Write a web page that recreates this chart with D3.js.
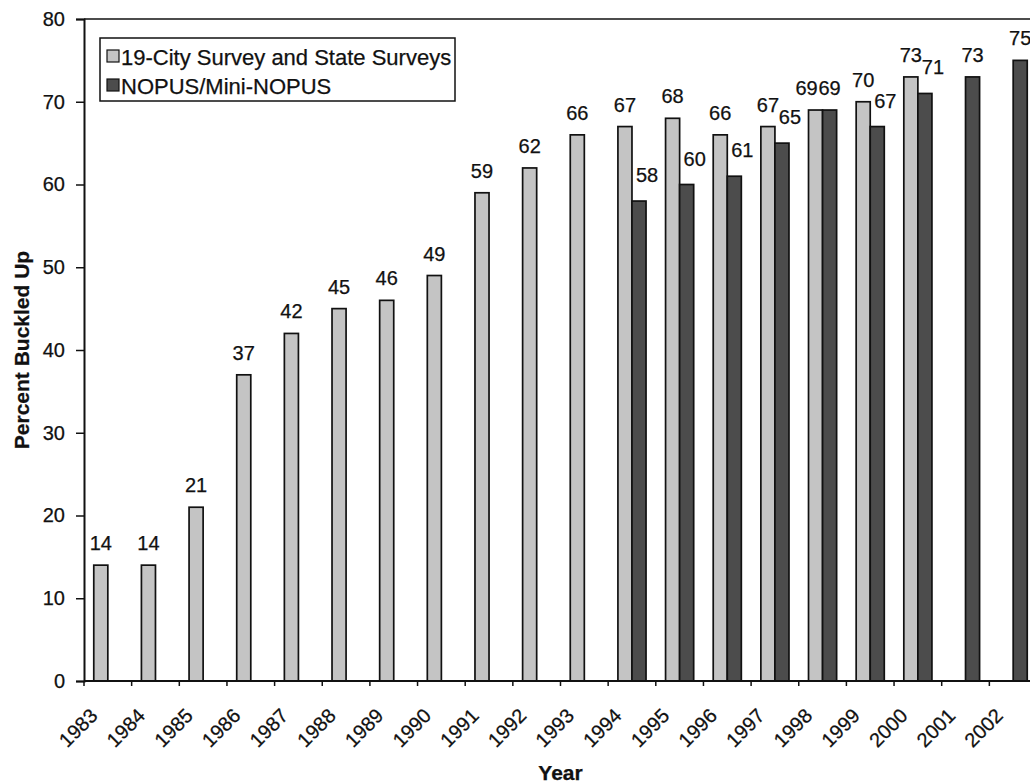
<!DOCTYPE html>
<html>
<head>
<meta charset="utf-8">
<script src="https://cdn.jsdelivr.net/npm/d3@7"></script>
<style>
  html, body { margin: 0; padding: 0; background: #fff; overflow: hidden; }
  svg { display: block; font-family: "Liberation Sans", Arial, Helvetica, sans-serif; }
  svg text { stroke: #111; stroke-width: 0.25px; }
</style>
</head>
<body>
<svg id="chart" width="1030" height="783"></svg>
<script>
// Seat belt use by survey year
const years = ["1983", "1984", "1985", "1986", "1987", "1988", "1989", "1990", "1991", "1992",
               "1993", "1994", "1995", "1996", "1997", "1998", "1999", "2000", "2001", "2002"];
const cityStateSurveys = [14, 14, 21, 37, 42, 45, 46, 49, 59, 62,
                          66, 67, 68, 66, 67, 69, 70, 73, null, null];
const nopusSurveys = [null, null, null, null, null, null, null, null, null, null,
                      null, 58, 60, 61, 65, 69, 67, 71, 73, 75];
const seriesNames = ["19-City Survey and State Surveys", "NOPUS/Mini-NOPUS"];
const yTicks = [0, 10, 20, 30, 40, 50, 60, 70, 80];

const series = [
  { name: seriesNames[0], values: cityStateSurveys, fill: "#c4c4c4" },
  { name: seriesNames[1], values: nopusSurveys, fill: "#4c4c4c" }
];

const svg = d3.select("#chart");
const plot = { left: 84, right: 1037, top: 19, bottom: 681 };

const x = d3.scaleBand()
  .domain(years)
  .range([plot.left, plot.right])
  .paddingInner(0.41)
  .paddingOuter(0.205);

const sub = d3.scaleBand()
  .domain(series.map(s => s.name))
  .range([0, x.bandwidth()]);

const y = d3.scaleLinear().domain([0, 80]).range([plot.bottom, plot.top]);

// Plot frame (top edge runs off the right side of the page)
svg.append("line")
  .attr("x1", plot.left).attr("x2", plot.right)
  .attr("y1", plot.top).attr("y2", plot.top)
  .attr("stroke", "#111").attr("stroke-width", 1.5);
svg.append("line")
  .attr("x1", plot.right).attr("x2", plot.right)
  .attr("y1", plot.top).attr("y2", plot.bottom)
  .attr("stroke", "#111").attr("stroke-width", 1.5);

// Bars
const rows = [];
series.forEach(s => {
  s.values.forEach((v, i) => {
    if (v != null) rows.push({ series: s, year: years[i], value: v, i });
  });
});

svg.append("g").selectAll("rect")
  .data(rows)
  .join("rect")
  .attr("x", d => x(d.year) + sub(d.series.name))
  .attr("y", d => y(d.value))
  .attr("width", sub.bandwidth())
  .attr("height", d => y(0) - y(d.value))
  .attr("fill", d => d.series.fill)
  .attr("stroke", "#111")
  .attr("stroke-width", 1.7);

// Value labels: nudge the pair apart where two labels share a year
svg.append("g").selectAll("text")
  .data(rows)
  .join("text")
  .attr("x", d => {
    let cx = x(d.year) + sub(d.series.name) + sub.bandwidth() / 2;
    const a = cityStateSurveys[d.i], b = nopusSurveys[d.i];
    if (a != null && b != null) {
      if (d.series === series[1] && a > b) cx += 8;
      if (d.series === series[0] && a === b) cx -= 9;
    }
    return cx;
  })
  .attr("y", d => {
    let ty = y(d.value) - 15;
    const a = cityStateSurveys[d.i], b = nopusSurveys[d.i];
    if (a != null && b != null && d.series === series[1] && a > b) ty -= 4;
    return ty;
  })
  .attr("text-anchor", "middle")
  .attr("font-size", 20)
  .attr("fill", "#111")
  .text(d => d.value);

// Y axis
const yAxis = svg.append("g")
  .attr("transform", `translate(${plot.left},0)`)
  .call(d3.axisLeft(y).tickValues(yTicks).tickSize(8).tickPadding(11));
yAxis.select(".domain").attr("stroke", "#111").attr("stroke-width", 2);
yAxis.selectAll(".tick line").attr("stroke", "#111").attr("stroke-width", 1.5);
yAxis.selectAll(".tick text")
  .attr("font-size", 20).attr("fill", "#111")
  .attr("font-family", "'Liberation Sans', Arial, sans-serif");

// X axis: baseline, boundary ticks and rotated year labels
svg.append("line")
  .attr("x1", plot.left).attr("x2", plot.right)
  .attr("y1", plot.bottom).attr("y2", plot.bottom)
  .attr("stroke", "#111").attr("stroke-width", 2);

const boundaries = d3.range(years.length + 1).map(i => plot.left + i * x.step());
svg.append("g").selectAll("line")
  .data(boundaries)
  .join("line")
  .attr("x1", d => d).attr("x2", d => d)
  .attr("y1", plot.bottom).attr("y2", plot.bottom + 5)
  .attr("stroke", "#111").attr("stroke-width", 1.5);

svg.append("g").selectAll("text")
  .data(years)
  .join("text")
  .attr("transform", d => `translate(${x(d) + x.bandwidth() / 2 - 9},${plot.bottom + 36}) rotate(-45)`)
  .attr("text-anchor", "end")
  .attr("font-size", 20)
  .attr("fill", "#111")
  .text(d => d);

// Axis titles
svg.append("text")
  .attr("x", (plot.left + plot.right) / 2)
  .attr("y", 780)
  .attr("text-anchor", "middle")
  .attr("font-size", 21)
  .attr("font-weight", "bold")
  .attr("fill", "#111")
  .text("Year");

svg.append("text")
  .attr("transform", `translate(29,${(plot.top + plot.bottom) / 2}) rotate(-90)`)
  .attr("text-anchor", "middle")
  .attr("font-size", 21)
  .attr("font-weight", "bold")
  .attr("fill", "#111")
  .text("Percent Buckled Up");

// Legend
const legend = svg.append("g");
legend.append("rect")
  .attr("x", 100).attr("y", 38)
  .attr("width", 355).attr("height", 63)
  .attr("fill", "#fff")
  .attr("stroke", "#111").attr("stroke-width", 1.5);

const entry = legend.selectAll("g.entry")
  .data(series)
  .join("g")
  .attr("class", "entry")
  .attr("transform", (d, i) => `translate(107,${50 + i * 29})`);
entry.append("rect")
  .attr("width", 12).attr("height", 12)
  .attr("fill", d => d.fill)
  .attr("stroke", "#111").attr("stroke-width", 1.2);
entry.append("text")
  .attr("x", 14).attr("y", 15)
  .attr("font-size", 22)
  .attr("fill", "#111")
  .text(d => d.name);
</script>
</body>
</html>
